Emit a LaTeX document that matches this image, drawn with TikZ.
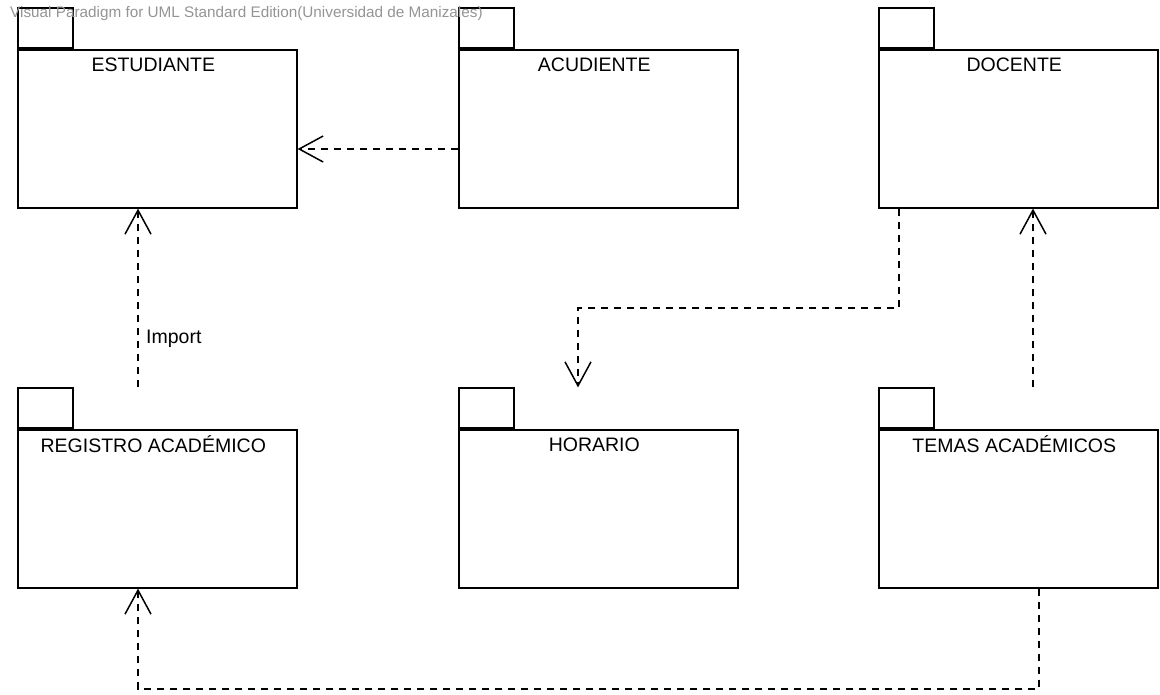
\documentclass[tikz,border=0pt]{standalone}
\usepackage{fontspec}
\setmainfont{Liberation Sans}
\usetikzlibrary{arrows.meta}

\begin{document}
\begin{tikzpicture}[x=1pt, y=-1pt,
  pkg/.style={draw, rectangle, line width=1.6pt, minimum width=279pt, minimum height=158pt, anchor=north west, inner sep=0pt},
  tab/.style={draw, rectangle, line width=1.6pt, minimum width=55pt, minimum height=40pt, anchor=south west, inner sep=0pt},
  pkgname/.style={font=\fontsize{19.5}{22}\selectfont, inner sep=0pt},
  wmark/.style={font=\fontsize{15.3}{18}\selectfont, text=black!42, inner sep=0pt, anchor=west},
  dep/.style={-{Straight Barb[length=24pt, width=26pt]}, dash pattern=on 7pt off 6pt, line width=1.5pt}
]
\useasboundingbox (0,0) rectangle (1160,694);

% Row 1: packages
\node[pkg] (est) at (17,49) {};
\node[tab] (esttab) at (est.north west) {};
\node[pkgname] (estname) at ([xshift=-4pt, yshift=-15.5pt]est.north) {ESTUDIANTE};

\node[pkg] (acu) at (458,49) {};
\node[tab] (acutab) at (acu.north west) {};
\node[pkgname] (acuname) at ([xshift=-4pt, yshift=-15.5pt]acu.north) {ACUDIENTE};

\node[pkg] (doc) at (878,49) {};
\node[tab] (doctab) at (doc.north west) {};
\node[pkgname] (docname) at ([xshift=-4pt, yshift=-15.5pt]doc.north) {DOCENTE};

% Row 2: packages
\node[pkg] (reg) at (17,429) {};
\node[tab] (regtab) at (reg.north west) {};
\node[pkgname] (regname) at ([xshift=-4pt, yshift=-15.5pt]reg.north) {REGISTRO ACADÉMICO};

\node[pkg] (hor) at (458,429) {};
\node[tab] (hortab) at (hor.north west) {};
\node[pkgname] (horname) at ([xshift=-4pt, yshift=-15.5pt]hor.north) {HORARIO};

\node[pkg] (tem) at (878,429) {};
\node[tab] (temtab) at (tem.north west) {};
\node[pkgname] (temname) at ([xshift=-4pt, yshift=-15.5pt]tem.north) {TEMAS ACADÉMICOS};

% watermark
\node[wmark] (wm) at (10,14) {Visual Paradigm for UML Standard Edition(Universidad de Manizales)};

% Dependencies
\draw[dep] (acu.west |- 0,149) -- (est.east |- 0,149);
\draw[dep] (regtab.north -| 138,0) -- (est.south -| 138,0);
\node[pkgname, anchor=west] (imp) at (146,339) {Import};
\draw[dep] (doc.south -| 899,0) |- (578,308) -- (hortab.north -| 578,0);
\draw[dep] (temtab.north -| 1033,0) -- (doc.south -| 1033,0);
\draw[dep] (tem.south -| 1039,0) -- (1039,689) -| (reg.south -| 138,0);

\end{tikzpicture}
\end{document}
